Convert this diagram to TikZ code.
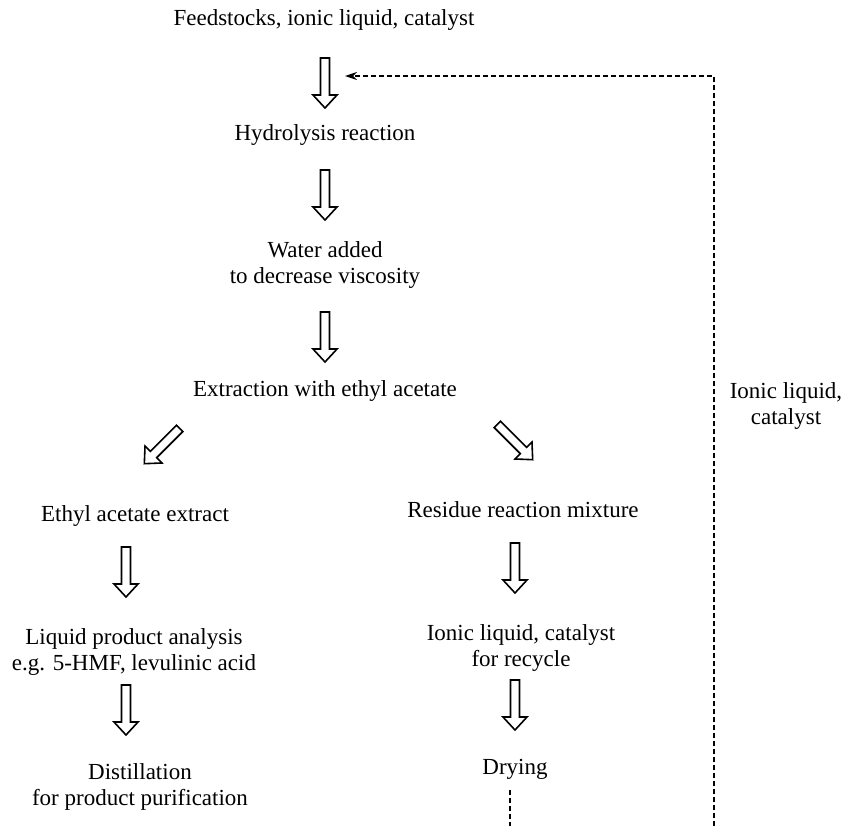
\documentclass[tikz,border=0pt]{standalone}
\usepackage{fontspec}
\setmainfont{Liberation Serif}
\usetikzlibrary{arrows.meta}

\begin{document}
\begin{tikzpicture}[x=0.5pt,y=-0.5pt,
  txt/.style={align=center, font=\fontsize{11.5}{12.8}\selectfont, inner sep=0pt},
  blockarr/.pic={\draw[line width=0.8pt, line join=miter]
    (-25,-4.5) -- (12,-4.5) -- (12,-12) -- (25,0) -- (12,12) -- (12,4.5)
    -- (-25,4.5) -- cycle;},
  recycle/.style={line width=1pt, dash pattern=on 2.5pt off 1.5pt}]
\useasboundingbox (0,0) rectangle (846,826);

% Hauptstrang
\node[txt] (feed) at (324,20) {Feedstocks, ionic liquid, catalyst};
\pic[rotate=-90] at (325,83) {blockarr};
\node[txt] (hyd) at (325,135) {Hydrolysis reaction};
\pic[rotate=-90] at (325,195) {blockarr};
\node[txt] (water) at (325,265) {Water added\\to decrease viscosity};
\pic[rotate=-90] at (325,337) {blockarr};
\node[txt] (extr) at (325,391) {Extraction with ethyl acetate};

% Verzweigung
\pic[rotate=-135] at (162,446) {blockarr};
\pic[rotate=-45] at (515,442) {blockarr};

% Linker Zweig
\node[txt] (ext) at (135,516) {Ethyl acetate extract};
\pic[rotate=-90] at (126,572) {blockarr};
\node[txt] (anal) at (134,652) {Liquid product analysis\\e.g. 5-HMF, levulinic acid};
\pic[rotate=-90] at (126,710) {blockarr};
\node[txt] (dist) at (140,787) {Distillation\\for product purification};

% Rechter Zweig
\node[txt] (res) at (523,510) {Residue reaction mixture};
\pic[rotate=-90] at (515,568) {blockarr};
\node[txt] (il) at (521,648) {Ionic liquid, catalyst\\for recycle};
\pic[rotate=-90] at (515,705) {blockarr};
\node[txt] (dry) at (515,769) {Drying};

% Rueckfuehrung
\coordinate (dryin) at (510,790);
\coordinate (dryout) at (510,826);
\coordinate (loopout) at (714,826);
\coordinate (loopin) at (345,76);
\draw[recycle] (dryin) -- (dryout);
\draw[recycle, -{Stealth[length=6pt,width=4pt]}] (loopout) |- (loopin);
\node[txt] (ilcat) at (786,406) {Ionic liquid,\\catalyst};
\end{tikzpicture}
\end{document}
